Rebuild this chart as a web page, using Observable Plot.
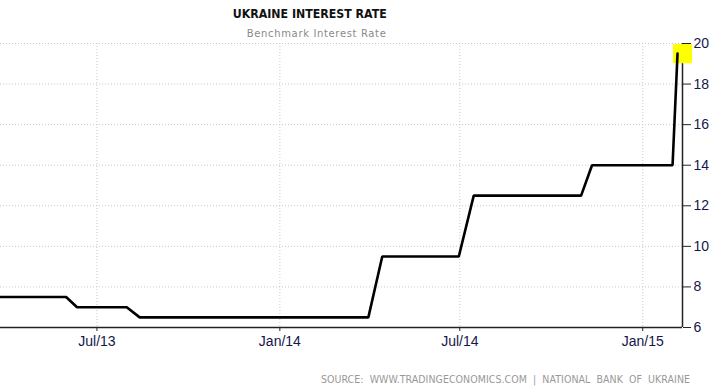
<!DOCTYPE html>
<html>
<head>
<meta charset="utf-8">
<script src="https://cdn.jsdelivr.net/npm/d3@7"></script>
<script src="https://cdn.jsdelivr.net/npm/@observablehq/plot@0.6"></script>
<style>
  html, body { margin: 0; padding: 0; background: #fff; }
  #wrap { position: relative; width: 714px; height: 388px; overflow: hidden; }
  #wrap svg { position: absolute; left: 0; top: 0; }
</style>
</head>
<body>
<div id="wrap"></div>
<script>
// ---- data ----
const titleText = "UKRAINE INTEREST RATE";
const subtitleText = "Benchmark Interest Rate";
const sourceText = "SOURCE:  WWW.TRADINGECONOMICS.COM  |  NATIONAL  BANK  OF  UKRAINE";

const dates = ["2013-03-01","2013-05-31","2013-06-11","2013-07-31","2013-08-13",
               "2014-03-31","2014-04-14","2014-06-30","2014-07-15","2014-10-31",
               "2014-11-11","2015-01-31","2015-02-05"];
const rates = [7.5, 7.5, 7.0, 7.0, 6.5, 6.5, 9.5, 9.5, 12.5, 12.5, 14, 14, 19.5];

const xDomain = ["2013-03-26", "2015-02-10"];
const xTickDates = ["2013-07-01", "2014-01-01", "2014-07-01", "2015-01-01"];
const xTickLabels = ["Jul/13", "Jan/14", "Jul/14", "Jan/15"];
const yTicks = [6, 8, 10, 12, 14, 16, 18, 20];
const yDomain = [6, 20];

// ---- build ----
const data = dates.map((d, i) => ({date: new Date(d), rate: rates[i]}));
const xt = xTickDates.map(d => new Date(d));
const xd = xDomain.map(d => new Date(d));
const labelOf = new Map(xt.map((d, i) => [+d, xTickLabels[i]]));
const last = data[data.length - 1];

const chart = Plot.plot({
  width: 714,
  height: 388,
  marginTop: 43,
  marginBottom: 61,
  marginLeft: 0,
  marginRight: 32,
  style: {fontFamily: "'Liberation Sans', Arial, sans-serif", fontSize: "14px", background: "transparent"},
  x: {type: "utc", domain: xd, label: null},
  y: {domain: yDomain, label: null},
  marks: [
    Plot.gridX(xt, {stroke: "#c8c8c8", strokeOpacity: 1, strokeDasharray: "1,2"}),
    Plot.gridY(yTicks, {stroke: "#c8c8c8", strokeOpacity: 1, strokeDasharray: "1,2"}),
    Plot.ruleY([yDomain[0]], {stroke: "#222", strokeWidth: 1.5}),
    Plot.ruleX([xd[1]], {stroke: "#222", strokeWidth: 1.5}),
    Plot.axisX(xt, {tickSize: 4, tickPadding: 5, stroke: "#222", fill: "#16164a",
      tickFormat: d => labelOf.get(+d), fontSize: 14, label: null}),
    Plot.axisY(yTicks, {anchor: "right", tickSize: 8, tickPadding: 3, stroke: "#222", fill: "#16164a", fontSize: 14, label: null}),
    Plot.dot([{date: xd[1], rate: last.rate}], {x: "date", y: "rate", symbol: "square", r: 10.8, fill: "#ffff00", stroke: "none"}),
    Plot.line(data, {x: "date", y: "rate", stroke: "#000", strokeWidth: 2.6, clip: true, strokeLinejoin: "miter"})
  ]
});
document.getElementById("wrap").appendChild(chart);

// overlay texts
const ov = d3.select("#wrap").append("svg").attr("width", 714).attr("height", 388)
  .style("font-family", "'DejaVu Sans', sans-serif");
ov.append("text").attr("x", 309.7).attr("y", 18.3).attr("text-anchor", "middle")
  .attr("font-family", "'DejaVu Sans Condensed', 'DejaVu Sans', sans-serif")
  .attr("font-weight", "bold").attr("font-size", 12.5).attr("fill", "#111")
  .attr("textLength", 154).attr("lengthAdjust", "spacingAndGlyphs").text(titleText);
ov.append("text").attr("x", 316.3).attr("y", 36.5).attr("text-anchor", "middle")
  .attr("font-size", 10).attr("fill", "#8a8a8a")
  .attr("textLength", 139).attr("lengthAdjust", "spacing").text(subtitleText);
ov.append("text").attr("x", 690).attr("y", 383).attr("text-anchor", "end")
  .attr("font-family", "'DejaVu Sans Condensed', 'DejaVu Sans', sans-serif")
  .attr("font-size", 10.5).attr("fill", "#999").style("white-space", "pre")
  .attr("textLength", 369).attr("lengthAdjust", "spacing").text(sourceText);
</script>
</body>
</html>
